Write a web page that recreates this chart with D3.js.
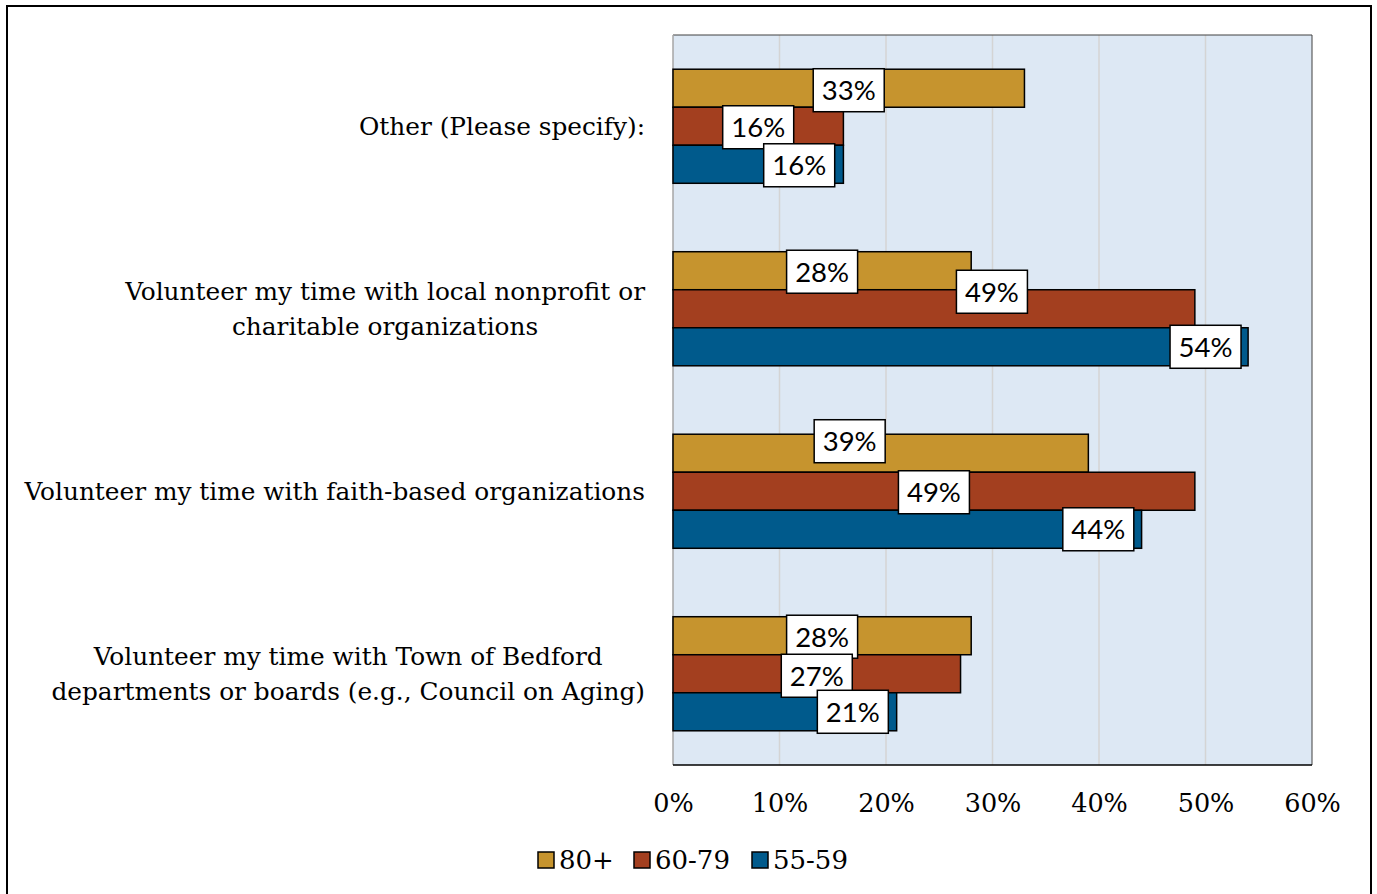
<!DOCTYPE html>
<html>
<head>
<meta charset="utf-8">
<script src="https://cdn.jsdelivr.net/npm/d3@7"></script>
<style>
  html, body { margin: 0; padding: 0; background: #fff; }
  svg { display: block; }
</style>
</head>
<body>
<svg id="chart" width="1377" height="894"></svg>
<script>
// Activity categories, drawn top to bottom
const categories = [
  ["Other (Please specify):"],
  ["Volunteer my time with local nonprofit or", "charitable organizations"],
  ["Volunteer my time with faith-based organizations"],
  ["Volunteer my time with Town of Bedford", "departments or boards (e.g., Council on Aging)"]
];

// Age groups (series), in bar order within each category
const series = ["80+", "60-79", "55-59"];
const seriesColors = ["#C6942E", "#A33F1F", "#005A8C"];

// Percent of respondents per age group, one entry per category
const values80 = [33, 28, 39, 28];
const values6079 = [16, 49, 49, 27];
const values5559 = [16, 54, 44, 21];

// Axis ticks
const tickValues = [0, 10, 20, 30, 40, 50, 60];

// Data-label nudges [dx, dy] in px from the middle of each bar
const labelNudge80 = [[0, 2], [0, 1], [-31, -12], [0, 1]];
const labelNudge6079 = [[0, 1], [58, -17], [0, 1], [0, 2]];
const labelNudge5559 = [[41, 1], [245, 0], [191, 0], [68, 0]];

const seriesValues = [values80, values6079, values5559];
const seriesNudges = [labelNudge80, labelNudge6079, labelNudge5559];

const svg = d3.select("#chart");

// Outer frame
svg.append("rect")
  .attr("x", 7).attr("y", 6)
  .attr("width", 1364).attr("height", 900)
  .attr("fill", "#fff").attr("stroke", "#000").attr("stroke-width", 2);

const plot = { left: 673, right: 1312, top: 35, bottom: 765 };

const x = d3.scaleLinear().domain([0, 60]).range([plot.left, plot.right]);
const y = d3.scaleBand()
  .domain(d3.range(categories.length))
  .range([plot.top, plot.bottom])
  .paddingInner(0.375)
  .paddingOuter(0.1875);
const ys = d3.scaleBand().domain(series).range([0, y.bandwidth()]);

// Plot background
svg.append("rect")
  .attr("x", plot.left).attr("y", plot.top)
  .attr("width", plot.right - plot.left).attr("height", plot.bottom - plot.top)
  .attr("fill", "#DDE8F4");

// Vertical gridlines
svg.append("g").selectAll("line")
  .data(tickValues.slice(1, -1))
  .join("line")
  .attr("x1", d => x(d)).attr("x2", d => x(d))
  .attr("y1", plot.top).attr("y2", plot.bottom)
  .attr("stroke", "#D4D4D4").attr("stroke-width", 1.5);

// Plot border
svg.append("line")
  .attr("x1", plot.left).attr("x2", plot.right).attr("y1", plot.top).attr("y2", plot.top)
  .attr("stroke", "#404040").attr("stroke-width", 1);
svg.append("line")
  .attr("x1", plot.right).attr("x2", plot.right).attr("y1", plot.top).attr("y2", plot.bottom)
  .attr("stroke", "#404040").attr("stroke-width", 1);
svg.append("line")
  .attr("x1", plot.left).attr("x2", plot.left).attr("y1", plot.top).attr("y2", plot.bottom)
  .attr("stroke", "#A6A6A6").attr("stroke-width", 1.5);

// Bars
const rows = [];
categories.forEach((c, i) => {
  series.forEach((s, j) => {
    rows.push({ cat: i, s, j, v: seriesValues[j][i], nudge: seriesNudges[j][i] });
  });
});

svg.append("g").selectAll("rect")
  .data(rows)
  .join("rect")
  .attr("x", x(0))
  .attr("y", d => y(d.cat) + ys(d.s))
  .attr("width", d => x(d.v) - x(0))
  .attr("height", ys.bandwidth())
  .attr("fill", d => seriesColors[d.j])
  .attr("stroke", "#000").attr("stroke-width", 1.5);

// Bottom axis line
svg.append("line")
  .attr("x1", plot.left).attr("x2", plot.right).attr("y1", plot.bottom).attr("y2", plot.bottom)
  .attr("stroke", "#000").attr("stroke-width", 1.5);

// Data labels in white boxes
const labelW = 71, labelH = 43;
const labels = svg.append("g").selectAll("g")
  .data(rows)
  .join("g")
  .attr("transform", d => {
    const cx = (x(0) + x(d.v)) / 2 + d.nudge[0];
    const cy = y(d.cat) + ys(d.s) + ys.bandwidth() / 2 + d.nudge[1];
    return `translate(${cx},${cy})`;
  });
labels.append("rect")
  .attr("x", -labelW / 2).attr("y", -labelH / 2)
  .attr("width", labelW).attr("height", labelH)
  .attr("fill", "#fff").attr("stroke", "#000").attr("stroke-width", 1.5);
labels.append("text")
  .attr("text-anchor", "middle")
  .attr("dy", "0.36em")
  .attr("font-family", "Lato, 'Open Sans', sans-serif")
  .attr("font-size", 27.5)
  .attr("fill", "#000")
  .text(d => d.v + "%");

// Category labels: block right-aligned at the axis, lines centered within it
const serif = "'DejaVu Serif', 'Liberation Serif', serif";
const catSize = 24.8;
const lineH = 35;
const catG = svg.append("g");
categories.forEach((lines, i) => {
  const g = catG.append("g");
  const texts = lines.map(t => g.append("text")
    .attr("font-family", serif).attr("font-size", catSize).attr("fill", "#000")
    .attr("text-anchor", "middle").text(t));
  const widest = d3.max(texts, t => t.node().getComputedTextLength());
  const cx = 645 - widest / 2;
  const cy = y(i) + y.bandwidth() / 2;
  texts.forEach((t, k) => {
    t.attr("x", cx)
     .attr("y", cy + (k - (lines.length - 1) / 2) * lineH)
     .attr("dy", "0.35em");
  });
});

// X axis tick labels
const axis = d3.axisBottom(x)
  .tickValues(tickValues)
  .tickSize(0)
  .tickPadding(0)
  .tickFormat(d => d + "%");
const axG = svg.append("g")
  .attr("transform", `translate(0,${plot.bottom})`)
  .call(axis);
axG.select(".domain").remove();
axG.selectAll("text")
  .attr("y", 38).attr("dy", "0.35em")
  .attr("font-family", serif).attr("font-size", 25.5).attr("fill", "#000");

// Legend
const legendX = [538, 634, 752];
const legend = svg.append("g").selectAll("g")
  .data(series)
  .join("g")
  .attr("transform", (d, i) => `translate(${legendX[i]},860)`);
legend.append("rect")
  .attr("x", 0).attr("y", -8).attr("width", 16).attr("height", 16)
  .attr("fill", (d, i) => seriesColors[i])
  .attr("stroke", "#000").attr("stroke-width", 1.5);
legend.append("text")
  .attr("x", 21).attr("dy", "0.35em")
  .attr("font-family", serif).attr("font-size", 26).attr("fill", "#000")
  .text(d => d);
</script>
</body>
</html>
